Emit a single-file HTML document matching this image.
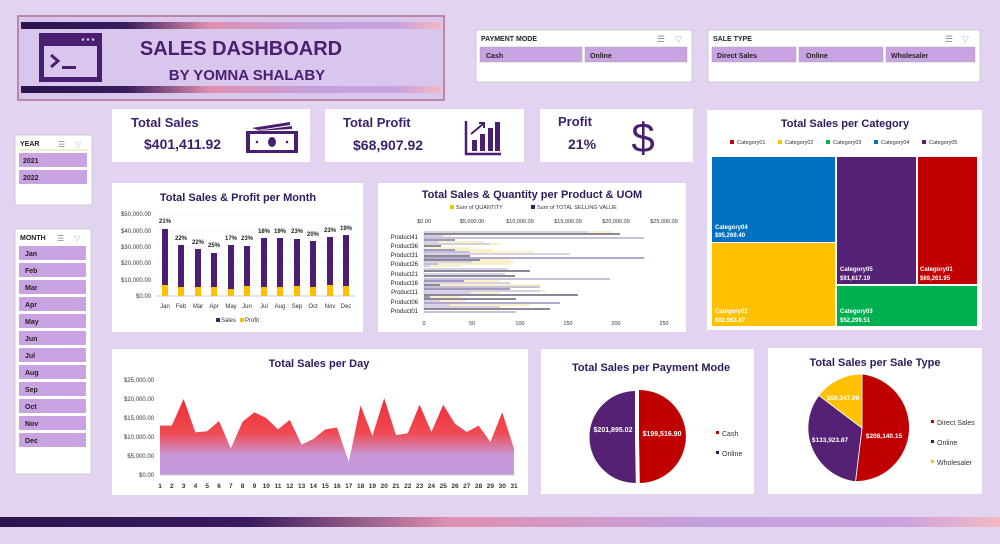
<!DOCTYPE html>
<html><head><meta charset="utf-8"><style>
html,body{margin:0;padding:0;background:#e2d3f0;}
svg{display:block;font-family:"Liberation Sans",sans-serif;}
</style></head><body>
<svg width="1000" height="544" viewBox="0 0 1000 544" xmlns="http://www.w3.org/2000/svg">
<defs>
<linearGradient id="bar" x1="0" x2="1" y1="0" y2="0">
<stop offset="0" stop-color="#2c1450"/><stop offset="0.25" stop-color="#3a1c5c"/><stop offset="0.45" stop-color="#e090b0"/><stop offset="0.7" stop-color="#c4a0dc"/><stop offset="0.9" stop-color="#c9a2de"/><stop offset="1" stop-color="#f5b8c0"/>
</linearGradient>
<linearGradient id="area" x1="0" x2="0" y1="0" y2="1">
<stop offset="0" stop-color="#f02c36"/><stop offset="0.45" stop-color="#f04a52"/><stop offset="0.75" stop-color="#c898d8"/><stop offset="1" stop-color="#c49ade"/>
</linearGradient>
</defs>
<rect width="1000" height="544" fill="#e2d3f0"/>

<!-- Header -->
<rect x="18" y="16" width="426" height="84" fill="#d9c6ec" stroke="#b07090" stroke-width="1.5"/>
<rect x="21" y="22" width="420" height="7" fill="url(#bar)"/>
<rect x="21" y="86" width="420" height="7" fill="url(#bar)"/>
<rect x="39" y="33" width="63" height="49" fill="#4a1f72"/>
<rect x="44" y="46" width="53" height="31" fill="#d9c6ec"/>
<circle cx="83" cy="39.5" r="1.3" fill="#d9c6ec"/><circle cx="88" cy="39.5" r="1.3" fill="#d9c6ec"/><circle cx="93" cy="39.5" r="1.3" fill="#d9c6ec"/>
<path d="M51 55 L58 61 L51 67" stroke="#4a1f72" stroke-width="3" fill="none"/>
<rect x="62" y="66" width="14" height="3" fill="#4a1f72"/>
<text x="241" y="55" font-size="20" font-weight="bold" fill="#4a1f72" text-anchor="middle">SALES DASHBOARD</text>
<text x="247" y="80" font-size="15" font-weight="bold" fill="#4a1f72" text-anchor="middle">BY YOMNA SHALABY</text>

<!-- Payment slicer -->
<rect x="476" y="30" width="216" height="52" fill="#fff" stroke="#ccc"/>
<text x="481" y="41" font-size="7" font-weight="bold" fill="#222">PAYMENT MODE</text>
<text x="657" y="42" font-size="9" fill="#888">☰</text><text x="675" y="42" font-size="9" fill="#bbb">▽</text>
<rect x="480" y="47" width="102" height="15" fill="#c9a2e2" stroke="#aaa" stroke-width="0.5"/>
<rect x="585" y="47" width="102" height="15" fill="#c9a2e2" stroke="#aaa" stroke-width="0.5"/>
<text x="486" y="58" font-size="7" font-weight="bold" fill="#222">Cash</text>
<text x="590" y="58" font-size="7" font-weight="bold" fill="#222">Online</text>

<!-- Sale type slicer -->
<rect x="708" y="30" width="272" height="52" fill="#fff" stroke="#ccc"/>
<text x="713" y="41" font-size="7" font-weight="bold" fill="#222">SALE TYPE</text>
<text x="945" y="42" font-size="9" fill="#888">☰</text><text x="962" y="42" font-size="9" fill="#bbb">▽</text>
<rect x="712" y="47" width="84" height="15" fill="#c9a2e2" stroke="#aaa" stroke-width="0.5"/>
<rect x="799" y="47" width="84" height="15" fill="#c9a2e2" stroke="#aaa" stroke-width="0.5"/>
<rect x="886" y="47" width="89" height="15" fill="#c9a2e2" stroke="#aaa" stroke-width="0.5"/>
<text x="717" y="58" font-size="7" font-weight="bold" fill="#222">Direct Sales</text>
<text x="806" y="58" font-size="7" font-weight="bold" fill="#222">Online</text>
<text x="891" y="58" font-size="7" font-weight="bold" fill="#222">Wholesaler</text>

<!-- KPI cards -->
<rect x="112" y="109" width="198" height="53" fill="#fff"/>
<text x="131" y="127" font-size="13" font-weight="bold" fill="#3c1f6b">Total Sales</text>
<text x="144" y="149" font-size="14" font-weight="bold" fill="#3c1f6b">$401,411.92</text>
<rect x="246" y="131" width="52" height="22" fill="#4a1f72"/><rect x="250" y="134" width="44" height="16" fill="#fff"/>
<ellipse cx="272" cy="142" rx="4" ry="5" fill="#4a1f72"/><circle cx="257" cy="142" r="1.3" fill="#4a1f72"/><circle cx="287" cy="142" r="1.3" fill="#4a1f72"/>
<path d="M252 128 L290 122 L290 125 L258 130 Z M254 131 L292 126 L292 129 Z" fill="#4a1f72"/>

<rect x="325" y="109" width="199" height="53" fill="#fff"/>
<text x="343" y="127" font-size="13" font-weight="bold" fill="#3c1f6b">Total Profit</text>
<text x="353" y="150" font-size="14" font-weight="bold" fill="#3c1f6b">$68,907.92</text>
<path d="M466 121 L466 154 L501 154" stroke="#4a1f72" stroke-width="2.5" fill="none"/>
<rect x="472" y="140" width="5" height="11" fill="#4a1f72"/><rect x="480" y="134" width="5" height="17" fill="#4a1f72"/><rect x="488" y="128" width="5" height="23" fill="#4a1f72"/><rect x="495" y="122" width="5" height="29" fill="#4a1f72"/>
<path d="M471 134 L483 124 M479 123 L484 123 L484 128" stroke="#4a1f72" stroke-width="2" fill="none"/>

<rect x="540" y="109" width="153" height="53" fill="#fff"/>
<text x="558" y="126" font-size="13" font-weight="bold" fill="#3c1f6b">Profit</text>
<text x="568" y="149" font-size="14" font-weight="bold" fill="#3c1f6b">21%</text>
<text x="643" y="152" font-size="42" fill="#4a1f72" text-anchor="middle">$</text>

<!-- Year slicer -->
<rect x="15" y="135" width="77" height="70" fill="#fff" stroke="#ccc"/>
<text x="20" y="146" font-size="7" font-weight="bold" fill="#222">YEAR</text>
<line x1="19" y1="150" x2="88" y2="150" stroke="#e8e0a0"/>
<text x="58" y="147" font-size="8" fill="#888">☰</text><text x="75" y="147" font-size="8" fill="#bbb">▽</text>
<rect x="19" y="153" width="68" height="14" fill="#c9a2e2"/><text x="23" y="163" font-size="7" font-weight="bold" fill="#222">2021</text>
<rect x="19" y="170" width="68" height="14" fill="#c9a2e2"/><text x="23" y="180" font-size="7" font-weight="bold" fill="#222">2022</text>

<!-- Month slicer -->
<rect x="15" y="229" width="76" height="245" fill="#fff" stroke="#ccc"/>
<text x="20" y="240" font-size="7" font-weight="bold" fill="#222">MONTH</text>
<text x="57" y="241" font-size="8" fill="#888">☰</text><text x="74" y="241" font-size="8" fill="#bbb">▽</text>
<g font-size="7" font-weight="bold" fill="#222">
<rect x="19" y="246" width="67" height="14" fill="#c9a2e2"/><text x="25" y="256">Jan</text>
<rect x="19" y="263" width="67" height="14" fill="#c9a2e2"/><text x="25" y="273">Feb</text>
<rect x="19" y="280" width="67" height="14" fill="#c9a2e2"/><text x="25" y="290">Mar</text>
<rect x="19" y="297" width="67" height="14" fill="#c9a2e2"/><text x="25" y="307">Apr</text>
<rect x="19" y="314" width="67" height="14" fill="#c9a2e2"/><text x="25" y="324">May</text>
<rect x="19" y="331" width="67" height="14" fill="#c9a2e2"/><text x="25" y="341">Jun</text>
<rect x="19" y="348" width="67" height="14" fill="#c9a2e2"/><text x="25" y="358">Jul</text>
<rect x="19" y="365" width="67" height="14" fill="#c9a2e2"/><text x="25" y="375">Aug</text>
<rect x="19" y="382" width="67" height="14" fill="#c9a2e2"/><text x="25" y="392">Sep</text>
<rect x="19" y="399" width="67" height="14" fill="#c9a2e2"/><text x="25" y="409">Oct</text>
<rect x="19" y="416" width="67" height="14" fill="#c9a2e2"/><text x="25" y="426">Nov</text>
<rect x="19" y="433" width="67" height="14" fill="#c9a2e2"/><text x="25" y="443">Dec</text>
</g>

<!-- Month chart -->
<rect x="112" y="183" width="251" height="149" fill="#fff"/>
<text x="238" y="201" font-size="11" font-weight="bold" fill="#2e1a5c" text-anchor="middle">Total Sales &amp; Profit per Month</text>
<g font-size="6" fill="#333" text-anchor="end">
<text x="151" y="216">$50,000.00</text><text x="151" y="233">$40,000.00</text><text x="151" y="249">$30,000.00</text><text x="151" y="265">$20,000.00</text><text x="151" y="282">$10,000.00</text><text x="151" y="298">$0.00</text>
</g>
<g stroke="#eee" stroke-width="0.6"><line x1="156" y1="214" x2="355" y2="214"/><line x1="156" y1="231" x2="355" y2="231"/><line x1="156" y1="247" x2="355" y2="247"/><line x1="156" y1="263" x2="355" y2="263"/><line x1="156" y1="280" x2="355" y2="280"/></g>
<line x1="156" y1="296" x2="355" y2="296" stroke="#ccc"/>
<g fill="#4a1f72">
<rect x="162" y="229" width="6" height="67"/><rect x="178" y="245" width="6" height="51"/><rect x="195" y="249" width="6" height="47"/><rect x="211" y="253" width="6" height="43"/><rect x="228" y="245" width="6" height="51"/><rect x="244" y="246" width="6" height="50"/><rect x="261" y="238" width="6" height="58"/><rect x="277" y="238" width="6" height="58"/><rect x="294" y="239" width="6" height="57"/><rect x="310" y="241" width="6" height="55"/><rect x="327" y="237" width="6" height="59"/><rect x="343" y="235" width="6" height="61"/>
</g>
<g fill="#ffc000">
<rect x="162" y="285" width="6" height="11"/><rect x="178" y="287" width="6" height="9"/><rect x="195" y="287" width="6" height="9"/><rect x="211" y="287" width="6" height="9"/><rect x="228" y="289" width="6" height="7"/><rect x="244" y="286" width="6" height="10"/><rect x="261" y="287" width="6" height="9"/><rect x="277" y="287" width="6" height="9"/><rect x="294" y="286" width="6" height="10"/><rect x="310" y="287" width="6" height="9"/><rect x="327" y="285" width="6" height="11"/><rect x="343" y="286" width="6" height="10"/>
</g>
<g font-size="6" font-weight="bold" fill="#222" text-anchor="middle">
<text x="165" y="223">21%</text><text x="181" y="240">22%</text><text x="198" y="244">22%</text><text x="214" y="247">25%</text><text x="231" y="240">17%</text><text x="247" y="240">23%</text><text x="264" y="233">18%</text><text x="280" y="233">19%</text><text x="297" y="233">23%</text><text x="313" y="236">20%</text><text x="330" y="232">23%</text><text x="346" y="230">19%</text>
</g>
<g font-size="6" fill="#333" text-anchor="middle">
<text x="165" y="308">Jan</text><text x="181" y="308">Feb</text><text x="198" y="308">Mar</text><text x="214" y="308">Apr</text><text x="231" y="308">May</text><text x="247" y="308">Jun</text><text x="264" y="308">Jul</text><text x="280" y="308">Aug</text><text x="297" y="308">Sep</text><text x="313" y="308">Oct</text><text x="330" y="308">Nov</text><text x="346" y="308">Dec</text>
</g>
<rect x="216" y="318" width="4" height="4" fill="#4a1f72"/><text x="221" y="322" font-size="6" fill="#333">Sales</text>
<rect x="240" y="318" width="4" height="4" fill="#ffc000"/><text x="245" y="322" font-size="6" fill="#333">Profit</text>

<!-- Product chart -->
<rect x="378" y="183" width="308" height="149" fill="#fff"/>
<text x="532" y="198" font-size="11" font-weight="bold" fill="#2e1a5c" text-anchor="middle">Total Sales &amp; Quantity per Product &amp; UOM</text>
<rect x="450" y="205" width="4" height="4" fill="#ffc000"/><text x="456" y="209" font-size="5.5" fill="#333">Sum of QUANTITY</text>
<rect x="531" y="205" width="4" height="4" fill="#2e1a5c"/><text x="537" y="209" font-size="5.5" fill="#333">Sum of TOTAL SELLING VALUE</text>
<g font-size="5.5" fill="#333" text-anchor="middle">
<text x="424" y="223">$0.00</text><text x="472" y="223">$5,000.00</text><text x="520" y="223">$10,000.00</text><text x="568" y="223">$15,000.00</text><text x="616" y="223">$20,000.00</text><text x="664" y="223">$25,000.00</text>
<text x="424" y="325">0</text><text x="472" y="325">50</text><text x="520" y="325">100</text><text x="568" y="325">150</text><text x="616" y="325">200</text><text x="664" y="325">250</text>
</g>
<g font-size="6" fill="#222" text-anchor="end">
<text x="418" y="239">Product41</text><text x="418" y="248">Product36</text><text x="418" y="257">Product31</text><text x="418" y="266">Product26</text><text x="418" y="276">Product21</text><text x="418" y="285">Product16</text><text x="418" y="294">Product11</text><text x="418" y="304">Product06</text><text x="418" y="313">Product01</text>
</g>
<line x1="424" y1="230" x2="424" y2="315" stroke="#ccc" stroke-width="0.6"/>
<g stroke-width="1">
<line x1="424" y1="232" x2="587" y2="232" stroke="#b0a0c8"/><line x1="587" y1="232" x2="613" y2="232" stroke="#f0e090"/>
<line x1="424" y1="234" x2="620" y2="234" stroke="#1a1030"/>
<line x1="424" y1="236" x2="443" y2="236" stroke="#b0a0c8"/><line x1="443" y1="236" x2="452" y2="236" stroke="#f0e090"/>
<line x1="424" y1="238" x2="644" y2="238" stroke="#9080b0"/>
<line x1="424" y1="240" x2="455" y2="240" stroke="#4a2f80"/>
<line x1="424" y1="242" x2="438" y2="242" stroke="#b0a0c8"/><line x1="438" y1="242" x2="484" y2="242" stroke="#f0e090"/>
<line x1="424" y1="244" x2="490" y2="244" stroke="#b0a0c8"/><line x1="490" y1="244" x2="500" y2="244" stroke="#f0e090"/>
<line x1="424" y1="246" x2="441" y2="246" stroke="#1a1030"/>
<line x1="424" y1="248" x2="470" y2="248" stroke="#f0e090"/>
<line x1="424" y1="250" x2="455" y2="250" stroke="#4a2f80"/><line x1="455" y1="250" x2="493" y2="250" stroke="#f0e090"/>
<line x1="424" y1="252" x2="470" y2="252" stroke="#9080b0"/><line x1="470" y1="252" x2="534" y2="252" stroke="#f0e090"/>
<line x1="424" y1="254" x2="570" y2="254" stroke="#b0a0c8"/>
<line x1="424" y1="256" x2="470" y2="256" stroke="#1a1030"/>
<line x1="424" y1="258" x2="644" y2="258" stroke="#6a50a0"/>
<line x1="424" y1="260" x2="480" y2="260" stroke="#1a1030"/><line x1="480" y1="260" x2="510" y2="260" stroke="#f0e090"/>
<line x1="424" y1="262" x2="472" y2="262" stroke="#b0a0c8"/><line x1="472" y1="262" x2="514" y2="262" stroke="#f0e090"/>
<line x1="424" y1="264" x2="438" y2="264" stroke="#9080b0"/><line x1="438" y1="264" x2="510" y2="264" stroke="#f0e090"/>
<line x1="424" y1="266" x2="430" y2="266" stroke="#b0a0c8"/><line x1="430" y1="266" x2="460" y2="266" stroke="#f0e090"/>
<line x1="424" y1="269" x2="508" y2="269" stroke="#b0a0c8"/>
<line x1="424" y1="271" x2="530" y2="271" stroke="#1a1030"/>
<line x1="424" y1="274" x2="505" y2="274" stroke="#b0a0c8"/>
<line x1="424" y1="276" x2="515" y2="276" stroke="#1a1030"/>
<line x1="424" y1="279" x2="610" y2="279" stroke="#9080b0"/>
<line x1="424" y1="281" x2="464" y2="281" stroke="#4a2f80"/><line x1="464" y1="281" x2="500" y2="281" stroke="#f0e090"/>
<line x1="424" y1="283" x2="510" y2="283" stroke="#b0a0c8"/>
<line x1="424" y1="285" x2="440" y2="285" stroke="#1a1030"/><line x1="440" y1="285" x2="540" y2="285" stroke="#f0e090"/>
<line x1="424" y1="287" x2="540" y2="287" stroke="#9080b0"/>
<line x1="424" y1="289" x2="510" y2="289" stroke="#4a2f80"/>
<line x1="424" y1="291" x2="540" y2="291" stroke="#b0a0c8"/><line x1="540" y1="291" x2="546" y2="291" stroke="#f0e090"/>
<line x1="424" y1="293" x2="470" y2="293" stroke="#b0a0c8"/><line x1="470" y1="293" x2="500" y2="293" stroke="#f0e090"/>
<line x1="424" y1="295" x2="578" y2="295" stroke="#1a1030"/>
<line x1="424" y1="297" x2="430" y2="297" stroke="#4a2f80"/><line x1="430" y1="297" x2="460" y2="297" stroke="#f0e090"/>
<line x1="424" y1="299" x2="516" y2="299" stroke="#1a1030"/>
<line x1="424" y1="301" x2="440" y2="301" stroke="#b0a0c8"/><line x1="440" y1="301" x2="466" y2="301" stroke="#f0e090"/>
<line x1="424" y1="303" x2="560" y2="303" stroke="#6a50a0"/>
<line x1="424" y1="305" x2="450" y2="305" stroke="#b0a0c8"/><line x1="450" y1="305" x2="530" y2="305" stroke="#f0e090"/>
<line x1="424" y1="307" x2="500" y2="307" stroke="#b0a0c8"/>
<line x1="424" y1="309" x2="550" y2="309" stroke="#1a1030"/>
<line x1="424" y1="312" x2="516" y2="312" stroke="#9080b0"/>
</g>

<!-- Category treemap -->
<rect x="707" y="110" width="275" height="220" fill="#fff"/>
<text x="845" y="127" font-size="11" font-weight="bold" fill="#2e1a5c" text-anchor="middle">Total Sales per Category</text>
<g font-size="5.5" fill="#333">
<rect x="730" y="140" width="4" height="4" fill="#c00000"/><text x="737" y="144">Category01</text>
<rect x="778" y="140" width="4" height="4" fill="#ffc000"/><text x="785" y="144">Category02</text>
<rect x="826" y="140" width="4" height="4" fill="#00b050"/><text x="833" y="144">Category03</text>
<rect x="874" y="140" width="4" height="4" fill="#0070c0"/><text x="881" y="144">Category04</text>
<rect x="922" y="140" width="4" height="4" fill="#542174"/><text x="929" y="144">Category05</text>
</g>
<rect x="712" y="157" width="123" height="85" fill="#0070c0"/>
<rect x="712" y="243" width="123" height="83" fill="#ffc000"/>
<rect x="837" y="157" width="79" height="127" fill="#542174"/>
<rect x="918" y="157" width="59" height="127" fill="#c00000"/>
<rect x="837" y="286" width="140" height="40" fill="#00b050"/>
<g font-size="6" font-weight="bold" fill="#fff">
<text x="715" y="229">Category04</text><text x="715" y="237">$95,269.40</text>
<text x="715" y="313">Category02</text><text x="715" y="322">$92,963.87</text>
<text x="840" y="271">Category05</text><text x="840" y="280">$91,617.19</text>
<text x="920" y="271">Category01</text><text x="920" y="280">$69,261.95</text>
<text x="840" y="313">Category03</text><text x="840" y="322">$52,299.51</text>
</g>

<!-- Day chart -->
<rect x="112" y="349" width="416" height="146" fill="#fff"/>
<text x="319" y="367" font-size="11" font-weight="bold" fill="#2e1a5c" text-anchor="middle">Total Sales per Day</text>
<g font-size="6" fill="#333" text-anchor="end">
<text x="154" y="382">$25,000.00</text><text x="154" y="401">$20,000.00</text><text x="154" y="420">$15,000.00</text><text x="154" y="439">$10,000.00</text><text x="154" y="458">$5,000.00</text><text x="154" y="477">$0.00</text>
</g>
<path d="M160,475 L160,425.6 L171.8,425.6 L183.6,399 L195.4,432.4 L207.2,431.3 L219,421 L230.8,448.4 L242.6,421.8 L254.4,412.3 L266.2,418 L278,429.4 L289.8,419.9 L301.6,444.6 L313.4,438.9 L325.2,429.4 L337,427.5 L348.8,461.7 L360.6,405.5 L372.4,435.9 L384.2,398.2 L396,435.1 L407.8,433.2 L419.6,404.7 L431.4,432 L443.2,404.7 L455,423.7 L466.8,432 L478.6,425.6 L490.4,441.9 L502.2,412.3 L514,448.4 L514,475 Z" fill="url(#area)"/>
<line x1="160" y1="475" x2="514" y2="475" stroke="#ccc"/>
<g font-size="6.5" font-weight="bold" fill="#333" text-anchor="middle">
<text x="160" y="488">1</text><text x="171.8" y="488">2</text><text x="183.6" y="488">3</text><text x="195.4" y="488">4</text><text x="207.2" y="488">5</text><text x="219" y="488">6</text><text x="230.8" y="488">7</text><text x="242.6" y="488">8</text><text x="254.4" y="488">9</text><text x="266.2" y="488">10</text><text x="278" y="488">11</text><text x="289.8" y="488">12</text><text x="301.6" y="488">13</text><text x="313.4" y="488">14</text><text x="325.2" y="488">15</text><text x="337" y="488">16</text><text x="348.8" y="488">17</text><text x="360.6" y="488">18</text><text x="372.4" y="488">19</text><text x="384.2" y="488">20</text><text x="396" y="488">21</text><text x="407.8" y="488">22</text><text x="419.6" y="488">23</text><text x="431.4" y="488">24</text><text x="443.2" y="488">25</text><text x="455" y="488">26</text><text x="466.8" y="488">27</text><text x="478.6" y="488">28</text><text x="490.4" y="488">29</text><text x="502.2" y="488">30</text><text x="514" y="488">31</text>
</g>

<!-- Payment pie -->
<rect x="541" y="349" width="213" height="145" fill="#fff"/>
<text x="651" y="371" font-size="11" font-weight="bold" fill="#2e1a5c" text-anchor="middle">Total Sales per Payment Mode</text>
<path d="M639,437 L639,390 A46,46 0 0,1 639.8,483 Z" fill="#c00000"/>
<path d="M635,437 L635.8,483 A46,46 0 0,1 635,391 Z" fill="#542174"/>
<text x="662" y="436" font-size="7" font-weight="bold" fill="#fff" text-anchor="middle">$199,516.90</text>
<text x="613" y="432" font-size="7" font-weight="bold" fill="#fff" text-anchor="middle">$201,895.02</text>
<rect x="716" y="431" width="3" height="3" fill="#c00000"/><text x="722" y="436" font-size="7" fill="#333">Cash</text>
<rect x="716" y="451" width="3" height="3" fill="#2e1a5c"/><text x="722" y="456" font-size="7" fill="#333">Online</text>

<!-- Sale type pie -->
<rect x="768" y="348" width="214" height="146" fill="#fff"/>
<text x="875" y="366" font-size="11" font-weight="bold" fill="#2e1a5c" text-anchor="middle">Total Sales per Sale Type</text>
<path d="M862,428 L862,374 A54,54 0 0,1 855.5,481.6 Z" fill="#c00000" stroke="#fff" stroke-width="0.8"/>
<path d="M862,428 L855.5,481.6 A54,54 0 0,1 818.9,395.4 Z" fill="#542174" stroke="#fff" stroke-width="0.8"/>
<path d="M862,428 L818.9,395.4 A54,54 0 0,1 862,374 Z" fill="#ffc000" stroke="#fff" stroke-width="0.8"/>
<text x="884" y="438" font-size="6.5" font-weight="bold" fill="#fff" text-anchor="middle">$208,140.15</text>
<text x="830" y="442" font-size="6.5" font-weight="bold" fill="#fff" text-anchor="middle">$133,923.87</text>
<text x="843" y="400" font-size="6.5" font-weight="bold" fill="#fff" text-anchor="middle">$59,347.90</text>
<rect x="931" y="420" width="3" height="3" fill="#c00000"/><text x="937" y="425" font-size="7" fill="#333">Direct Sales</text>
<rect x="931" y="440" width="3" height="3" fill="#2e1a5c"/><text x="937" y="445" font-size="7" fill="#333">Online</text>
<rect x="931" y="460" width="3" height="3" fill="#ffc000"/><text x="937" y="465" font-size="7" fill="#333">Wholesaler</text>

<!-- Bottom bar -->
<rect x="0" y="517" width="1000" height="10" fill="url(#bar)"/>
</svg>
</body></html>
